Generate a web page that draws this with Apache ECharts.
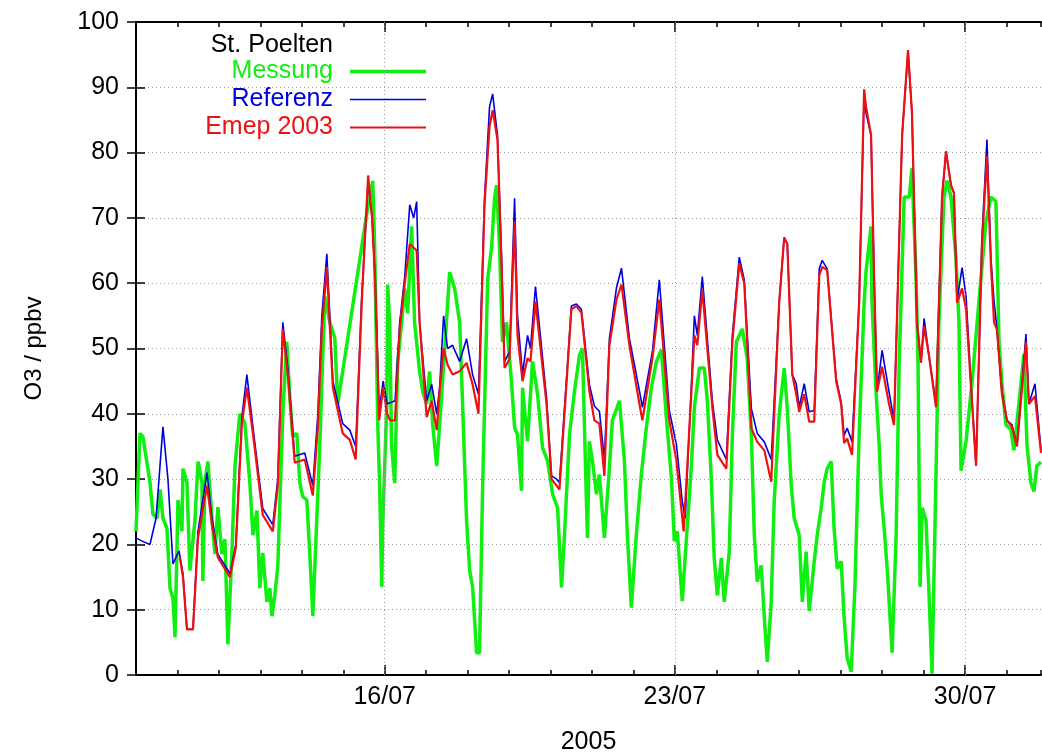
<!DOCTYPE html>
<html lang="de">
<head>
  <meta charset="UTF-8">
  <title>O3 St. Poelten Juli 2005</title>
  <script src="https://cdn.jsdelivr.net/npm/echarts@6/dist/echarts.min.js"></script>
  <style>
    html, body { margin: 0; padding: 0; background: #fff; overflow: hidden; }
    #chart { width: 1042px; height: 755px; }
  </style>
</head>
<body>
  <div id="chart"></div>

  <script>
    // Zeit in Stunden ab 10/07/2005 00:00
    const weekTicks = [144, 312, 480];
    const weekLabels = ['16/07', '23/07', '30/07'];
    const yTicks = [0, 10, 20, 30, 40, 50, 60, 70, 80, 90, 100];

    // Messung [Stunde, ppbv]
    const messung = [
      [0,22],[2.3,37],[4,36.5],[8.1,29.5],[9.8,24.6],[12.1,24],[13.9,28.4],[15.6,24],[17.9,22.5],[19.7,13.3],
      [21.4,11.7],[22.6,5.8],[24.3,26.8],[26.6,22],[27.2,31.6],[29.5,29.5],[31.2,16],[34.1,23.5],[35.9,32.7],
      [38.2,29.5],[38.7,14.4],[39.9,29.5],[41.6,32.7],[44,24],[45.7,18.5],[47.4,25.7],[49.7,18.5],[51.5,20.8],
      [53.2,4.7],[55.5,18.5],[57.3,32],[60.1,40],[63,38.6],[65.9,29.5],[67.7,21.4],[70,25.2],[71.7,13.3],
      [73.4,18.7],[75.8,11.2],[77.5,13.3],[78.7,9],[80.4,12.3],[82.1,16.6],[85,40],[87.3,51],[89.1,42.4],
      [90.8,36.5],[93.1,37],[94.8,29.5],[96.6,27.3],[98.9,26.8],[100.6,18.7],[102.4,9],[106.4,35],[109.3,58],
      [112.2,54],[115.1,51.6],[116.8,41.5],[133.6,70.6],[135.3,73],[137.1,75.7],[138.2,65.5],[140,38.3],
      [141.1,28.8],[142.3,13.5],[142.8,22.4],[145.2,41.5],[145.7,59.8],[146.9,54],[148,35],[149.8,29.4],
      [151.5,47.8],[153.8,54],[155.6,59.2],[157.3,55.4],[159.6,68.7],[161.3,54],[164.2,46.5],[166,43.4],
      [168.3,41.5],[170,46.5],[171.8,38.3],[174.1,32],[175.8,38.3],[178.7,49.7],[181.6,61.7],[184.5,59.2],
      [187.4,54],[189.1,41.5],[191.4,23.7],[193.2,16],[194.9,13.5],[197.2,3.4],[198.9,3.4],[200.7,28.8],
      [203.6,60.5],[205.9,65.5],[207.6,73],[208.8,75],[210.5,65.5],[212.2,51],[214.5,54],[217.4,45],
      [219.2,37.9],[220.9,36.8],[223.2,28.2],[223.8,44],[226.7,35.8],[229.6,48],[232.5,43],[235.4,34.8],
      [238.3,32.8],[241.2,27.7],[244.1,25.6],[246.4,13.4],[248.1,21.5],[251,36.8],[253.9,43.5],[256.8,49],
      [258.5,50],[260.8,26.6],[261.4,21],[262.5,35.8],[264.3,32.8],[266.6,27.7],[268.3,30.7],[271.2,21],
      [274.1,31.7],[275.8,38.9],[279.9,42],[282.8,32.8],[284.5,21.5],[286.8,10.3],[289.7,21.5],[292.6,30.7],
      [295.5,37.9],[298.4,44],[301.3,48],[304.2,49.8],[307.1,39.4],[310,30.2],[311.7,20.5],[313.4,22],
      [316.3,11.3],[318.6,20.5],[321.5,31.7],[323.3,41],[326.2,47],[329.1,47],[330.8,42],[333.1,30.1],
      [334.8,17.9],[336.6,12.2],[338.9,17.9],[340.6,11.2],[343.5,18.9],[345.3,36.7],[347.6,51],[349.3,52],
      [351,53],[353.9,48.5],[356.3,36.7],[358,21.4],[359.7,14.3],[362,16.8],[363.8,8.8],[365.5,2],
      [367.8,11.2],[369.5,26.5],[372.4,39.8],[375.3,47],[377.1,40.8],[379.4,29],[381.1,24],[384,21.4],
      [385.8,11.2],[388,18.9],[389.8,9.8],[392.7,17.4],[394.4,21.4],[396.7,25.5],[398.5,29.6],[400.2,31.6],
      [402.5,32.7],[404.2,22.4],[406,16.3],[408.3,17.4],[410,8.8],[411.8,2.6],[414.1,0.5],[416.3,13.8],
      [418.7,36.7],[421.6,57],[422.7,61.8],[425.6,68.7],[426.1,57.3],[428.5,43.4],[430.3,35.2],[431.5,27.5],
      [433.2,22.4],[435,16.1],[437.8,3.4],[440.1,21.2],[441.9,47.8],[444.8,73.2],[447.7,73.2],[449.3,77.6],
      [451.7,60.5],[452.8,47.8],[454,13.5],[455.2,25.6],[457.4,23.7],[459.1,12.9],[460.9,0.2],[462.6,22.4],
      [464.9,54],[467.8,73.2],[469.6,75.7],[471.9,73.2],[474.8,63.7],[476.5,54],[477.7,31.3],[480.6,35.8],
      [484,44.6],[488.1,57.3],[492.1,69.4],[495,73.2],[497.9,72.5],[499.7,51],[501.4,44.6],[503.7,38.3],
      [506.6,37.6],[508.3,34.4],[511.2,41.5],[514.1,49.1],[515.9,35.1],[518.2,29.4],[519.9,28.1],[521.6,32],
      [524,32.6]
    ];

    // Referenz [Stunde, ppbv]
    const referenz = [
      [0,21],[3.5,20.5],[8.1,20],[11.6,24],[15.6,38],[18.5,30],[21.4,17],[24.9,19],[27.2,15.5],[29.5,7],
      [33,7],[35.9,22],[41.1,31],[44,24],[47.4,18.5],[54.4,15.5],[57.8,20],[61.3,39.5],[64.2,46],[67.7,38],
      [73.4,25.5],[79.2,23],[82.1,30],[85,54],[87.9,47],[91.9,33.5],[97.7,34],[102.4,29],[105.3,40],[107.6,55],
      [110.5,64.5],[114,45],[119.7,38.5],[123.8,37.5],[127.2,35],[130.7,58],[134.4,75.5],[136.7,70],[138.5,60.5],
      [140.8,40.5],[143.1,45],[145.4,41.5],[150,42],[152.7,54],[155.6,61],[158.5,72],[160.8,70],[162.5,72.5],
      [164.2,54],[168.3,42],[171.2,44.5],[174.1,40],[175.8,44],[178.1,55],[180.4,50],[183.3,50.5],[187.4,48],
      [191.4,51.5],[194.9,46],[198.3,43],[201.8,73],[204.7,87],[206.5,89],[209.3,82.7],[211.7,63.6],[213.4,48],
      [216.3,49.5],[219.2,73],[220.9,55],[223.8,46],[226.7,52],[228.4,50],[231.3,59.5],[237.7,42.5],[240.6,30.5],
      [243.5,30],[245.2,29.5],[252.1,56.5],[255,56.8],[257.9,56],[262.5,44.5],[265.4,41.2],[268.3,40.4],
      [271.2,33],[274.1,51.5],[278.2,59.3],[281.1,62.3],[285.7,51.5],[291.5,43.5],[293.2,41],[299,49.5],
      [303,60.5],[308.8,40.5],[312.9,35.3],[316.3,26.6],[318,24],[321.5,44],[323.3,55],[325,52],[327.9,61],
      [333.7,42],[336.6,36],[341.8,33],[345.3,52],[349.3,64],[352.2,60.5],[356.3,40.8],[359.7,37],[363.8,35.7],
      [367.8,33],[372.4,57],[375.3,67],[377.1,66],[380,46],[382.3,44.6],[384,41],[386.9,44.6],[389.8,40.3],
      [392.7,40.5],[395.6,62.2],[397.3,63.5],[400.2,62.2],[405.4,45.4],[408.3,41.8],[410,36.7],[411.8,37.8],
      [414.6,35.7],[418.7,57],[421.6,89],[422.7,86],[425.6,82.7],[427.4,60.5],[429.1,43.5],[432,49.7],
      [436,43.4],[438.9,39],[443.6,82.7],[447,95.5],[449.3,86],[452.2,54],[454.5,48],[456.3,54.6],[459.1,49],
      [463.2,41.5],[466.7,73.2],[469,80.2],[471.9,75],[473.6,73.8],[475.4,57.3],[478.3,62.4],[480.6,58],
      [483.5,44.6],[486.4,32],[489.8,66.8],[492.7,82],[495,63.7],[496.8,57.3],[498.5,53],[501.4,43.4],
      [504.3,39],[507.2,38.3],[510.1,35.1],[515.3,52.2],[517,41.5],[520.5,44.6],[524,34.5]
    ];

    // Emep 2003 [Stunde, ppbv]
    const emep = [
      [25.4,18],[27.2,15],[29.5,7],[33,7],[35.9,21],[41.1,29],[44,23],[47.4,18],[54.4,15],[57.8,19.5],
      [61.3,38.5],[64.2,44],[67.7,37],[73.4,24.5],[79.2,22],[82.1,29],[85,53],[87.9,46],[91.9,32.5],[97.7,33],
      [102.4,27.5],[105.3,38],[107.6,53],[110.5,62.5],[114,44],[119.7,37],[123.8,36],[127.2,33],[130.7,57],
      [134.4,76.5],[136.7,70],[138.5,60],[140.8,39],[143.1,44],[145.4,40],[147.1,39],[150,39],[152.7,53],
      [155.6,60],[158.5,66],[162.5,65],[164.2,54],[168.3,39.5],[171.2,42],[174.1,37.5],[175.8,43.5],[178.1,50],
      [180.4,47.5],[183.3,46],[187.4,46.5],[191.4,47.8],[194.9,44.5],[198.3,40],[201.8,72],[204.7,84],
      [206.5,86.5],[209.3,82],[211.7,62.5],[213.4,47],[216.3,48.4],[219.2,69.5],[220.9,52],[223.8,45],
      [226.7,48.5],[228.4,48],[231.3,57.2],[237.7,41.5],[240.6,30],[243.5,29],[245.2,28.4],[252.1,56],
      [255,56.5],[257.9,55.5],[262.5,43.5],[265.4,39],[268.3,38.5],[271.2,30.5],[274.1,50.5],[278.2,57.5],
      [281.1,59.8],[285.7,50.5],[291.5,41.5],[293.2,39],[299,48.5],[303,57.5],[308.8,39],[312.9,32.8],
      [317.1,22],[321.5,43],[323.3,52],[325,50.5],[327.9,59],[333.7,41],[336.6,33.7],[341.8,31.6],[345.3,51],
      [349.3,63],[352.2,60],[356.3,37.8],[359.7,35.7],[363.8,34.4],[367.8,29.6],[372.4,57],[375.3,67],
      [377.1,66],[380,46],[382.3,43],[384,40.3],[386.9,43],[389.8,38.8],[392.7,38.8],[395.6,61.2],[397.3,62.5],
      [400.2,62],[405.4,45],[408.3,41.5],[410,35.5],[411.8,36.2],[414.6,33.7],[418.7,57],[421.6,89.7],
      [422.7,87],[425.6,82.7],[427.4,60.5],[429.1,43.4],[432,47.2],[436,41.5],[438.9,38.3],[443.6,82.7],
      [447,95.7],[449.3,86],[452.2,54],[454.5,47.8],[456.3,53.4],[459.1,49],[463.2,41],[466.7,73.2],[469,80.2],
      [471.9,75],[473.6,73.8],[475.4,57],[478.3,59.2],[480.6,56],[483.5,44],[486.4,32],[489.8,66],[492.7,79.5],
      [495,63],[496.8,54],[498.5,52.9],[501.4,43],[504.3,39],[507.2,38],[510.1,35],[515.3,51],[517,41.5],
      [520.5,42.7],[524,34]
    ];

    const FONT = '"Liberation Sans", Arial, Helvetica, sans-serif';
    const GREEN = '#11ee11';
    const BLUE = '#0000dd';
    const RED = '#ee1111';
    const gridLine = { color: '#999', width: 1, type: [1, 3] };
    const frame = { color: '#000', width: 2 };
    const tickStyle = { color: '#000', width: 1.5 };

    // Legenden-Symbol: waagrechter Strich mit der Linienstaerke der Serie
    function legendBar(w) {
      const y0 = 7 - w / 2, y1 = 7 + w / 2;
      return 'path://M0,0M76,14M0,' + y0 + 'H76V' + y1 + 'H0Z';
    }

    const xCommon = { type: 'value', min: 0, max: 524, gridIndex: 0 };

    const chart = echarts.init(document.getElementById('chart'));

    chart.setOption({
      animation: false,
      backgroundColor: '#fff',
      grid: { left: 136, right: 1, top: 22, bottom: 80, outerBoundsMode: 'none' },
      graphic: [{
        type: 'text',
        x: 333,
        y: 45,
        style: {
          text: 'St. Poelten',
          fill: '#000',
          font: '25px ' + FONT,
          textAlign: 'right',
          textVerticalAlign: 'middle'
        }
      }],
      legend: {
        orient: 'vertical',
        right: 616,
        top: 59,
        align: 'right',
        padding: 0,
        itemWidth: 76,
        itemHeight: 14,
        itemGap: 3,
        textStyle: { fontSize: 25, fontFamily: FONT, lineHeight: 24, padding: [0, 12, 0, 0] },
        data: [
          { name: 'Messung', icon: legendBar(3.5), textStyle: { color: GREEN } },
          { name: 'Referenz', icon: legendBar(1.6), textStyle: { color: BLUE } },
          { name: 'Emep 2003', icon: legendBar(2.2), textStyle: { color: RED } }
        ]
      },
      xAxis: [
        Object.assign({}, xCommon, {
          position: 'bottom',
          interval: 24,
          axisLine: { lineStyle: frame },
          axisTick: { inside: true, length: 5, lineStyle: tickStyle },
          axisLabel: { show: false },
          splitLine: { show: false }
        }),
        Object.assign({}, xCommon, {
          position: 'bottom',
          axisLine: { show: false },
          axisTick: { inside: true, length: 10, customValues: weekTicks, lineStyle: tickStyle },
          axisLabel: {
            customValues: weekTicks,
            formatter: v => weekLabels[weekTicks.indexOf(v)] || '',
            fontSize: 25, fontFamily: FONT, color: '#000', margin: 10
          },
          splitLine: { show: false },
          name: '2005',
          nameLocation: 'middle',
          nameGap: 55,
          nameTextStyle: { fontSize: 25, fontFamily: FONT, color: '#000' }
        }),
        Object.assign({}, xCommon, {
          position: 'top',
          interval: 24,
          axisLine: { lineStyle: frame },
          axisTick: { inside: true, length: 5, lineStyle: tickStyle },
          axisLabel: { show: false },
          splitLine: { show: false }
        }),
        Object.assign({}, xCommon, {
          position: 'top',
          axisLine: { show: false },
          axisTick: { inside: true, length: 10, customValues: weekTicks, lineStyle: tickStyle },
          axisLabel: { show: false },
          splitLine: { show: false }
        })
      ],
      yAxis: [
        {
          type: 'value',
          position: 'left',
          min: 0,
          max: 100,
          interval: 10,
          axisLine: { show: true, lineStyle: frame },
          axisTick: { show: true, inside: true, length: 9, lineStyle: tickStyle },
          axisLabel: {
            customValues: yTicks,
            fontSize: 25, fontFamily: FONT, color: '#000', margin: 17
          },
          splitLine: { show: true, lineStyle: gridLine },
          name: 'O3 / ppbv',
          nameLocation: 'middle',
          nameGap: 90,
          nameTextStyle: { fontSize: 24, fontFamily: FONT, color: '#000' }
        },
        {
          type: 'value',
          position: 'right',
          min: 0,
          max: 100,
          interval: 10,
          axisLine: { show: true, lineStyle: frame },
          axisTick: { show: true, inside: true, length: 9, lineStyle: tickStyle },
          axisLabel: { show: false },
          splitLine: { show: false }
        }
      ],
      series: [
        {
          name: 'week-grid',
          type: 'line',
          data: [],
          z: 1,
          silent: true,
          markLine: {
            silent: true,
            symbol: 'none',
            label: { show: false },
            lineStyle: gridLine,
            data: weekTicks.map(h => ({ xAxis: h }))
          }
        },
        {
          name: 'Messung',
          type: 'line',
          data: messung,
          symbol: 'none',
          z: 2,
          lineStyle: { color: GREEN, width: 3.5 },
          itemStyle: { color: GREEN }
        },
        {
          name: 'Referenz',
          type: 'line',
          data: referenz,
          symbol: 'none',
          z: 3,
          lineStyle: { color: BLUE, width: 1.6 },
          itemStyle: { color: BLUE }
        },
        {
          name: 'Emep 2003',
          type: 'line',
          data: emep,
          symbol: 'none',
          z: 4,
          lineStyle: { color: RED, width: 2.2 },
          itemStyle: { color: RED }
        }
      ]
    });
  </script>
</body>
</html>
